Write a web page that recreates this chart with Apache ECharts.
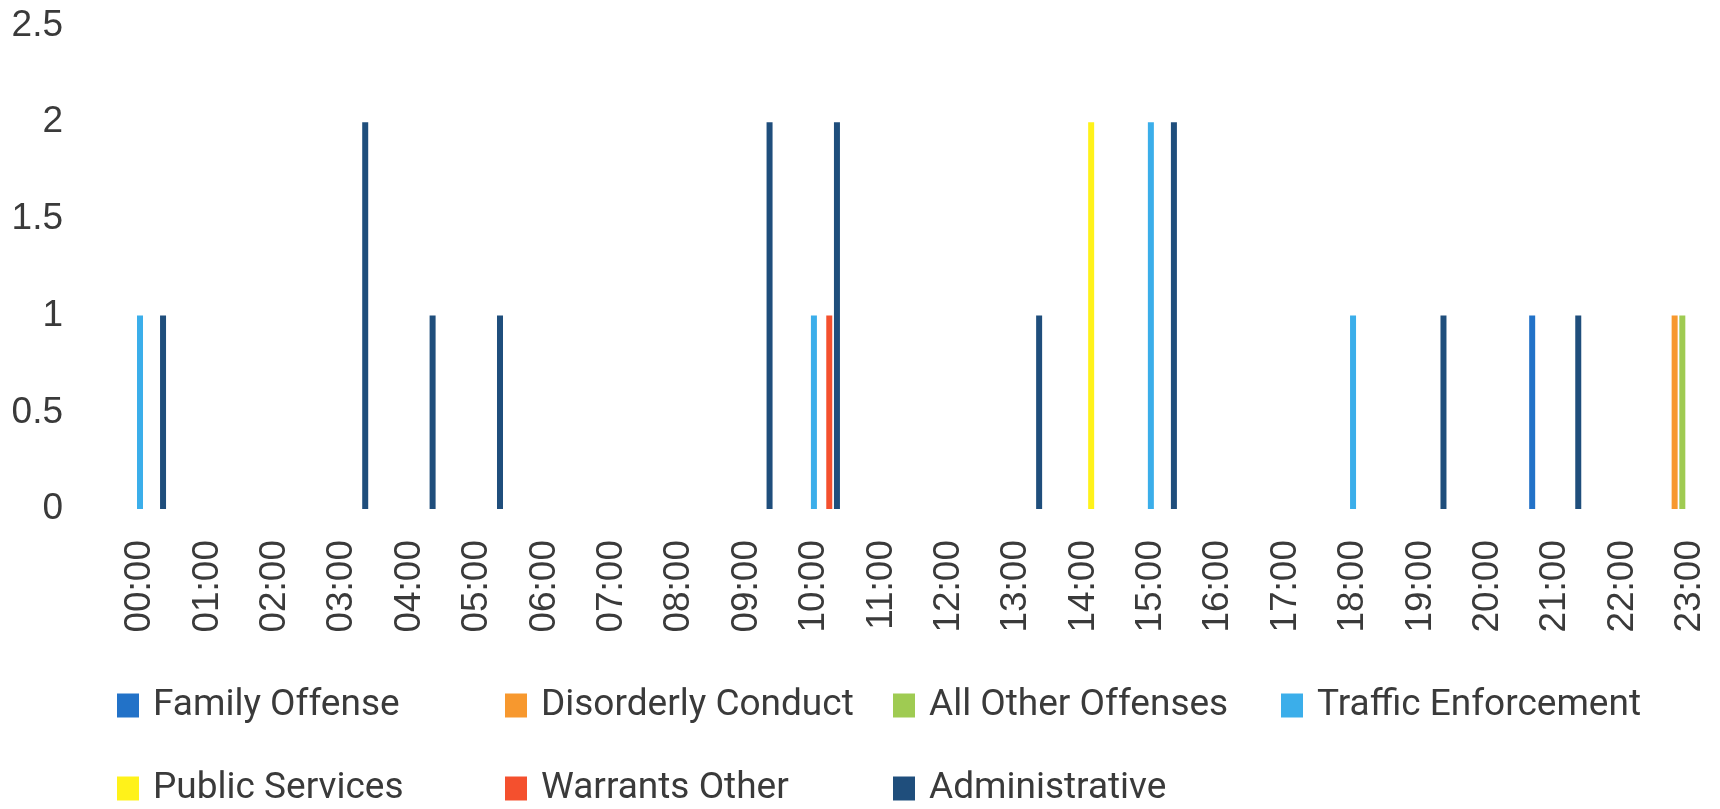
<!DOCTYPE html>
<html>
<head>
<meta charset="utf-8">
<title>Incidents by Hour</title>
<script src="https://cdn.jsdelivr.net/npm/echarts@6/dist/echarts.min.js"></script>
<style>
  html, body { margin: 0; padding: 0; background: #ffffff; }
  #chart { width: 1720px; height: 809px; }
</style>
</head>
<body>
<div id="chart"></div>
<script>
// Hour-of-day categories
const hours = ['00:00', '01:00', '02:00', '03:00', '04:00', '05:00', '06:00', '07:00',
               '08:00', '09:00', '10:00', '11:00', '12:00', '13:00', '14:00', '15:00',
               '16:00', '17:00', '18:00', '19:00', '20:00', '21:00', '22:00', '23:00'];

// Y-axis ticks
const yMin = 0;
const yMax = 2.5;
const yStep = 0.5;

// Counts per hour, one array per incident type
const familyOffense      = [0,0,0,0,0,0,0,0,0,0,0,0,0,0,0,0,0,0,0,0,0,1,0,0];
const disorderlyConduct  = [0,0,0,0,0,0,0,0,0,0,0,0,0,0,0,0,0,0,0,0,0,0,0,1];
const allOtherOffenses   = [0,0,0,0,0,0,0,0,0,0,0,0,0,0,0,0,0,0,0,0,0,0,0,1];
const trafficEnforcement = [1,0,0,0,0,0,0,0,0,0,1,0,0,0,0,2,0,0,1,0,0,0,0,0];
const publicServices     = [0,0,0,0,0,0,0,0,0,0,0,0,0,0,2,0,0,0,0,0,0,0,0,0];
const warrantsOther      = [0,0,0,0,0,0,0,0,0,0,1,0,0,0,0,0,0,0,0,0,0,0,0,0];
const administrative     = [1,0,0,2,1,1,0,0,0,2,2,0,0,1,0,2,0,0,0,1,0,1,0,0];

const seriesNames = ['Family Offense', 'Disorderly Conduct', 'All Other Offenses',
                     'Traffic Enforcement', 'Public Services', 'Warrants Other', 'Administrative'];
const seriesData = [familyOffense, disorderlyConduct, allOtherOffenses,
                    trafficEnforcement, publicServices, warrantsOther, administrative];
const seriesColors = ['#2272C8', '#F7982E', '#9FCB52', '#3BAEEA', '#FFF21A', '#F4502E', '#1F4E7C'];

const textColor = '#3a3a3a';

const chart = echarts.init(document.getElementById('chart'), null, { renderer: 'canvas' });

chart.setOption({
  backgroundColor: '#ffffff',
  animation: false,
  color: seriesColors,
  grid: { left: 140, right: 30, top: 25.5, bottom: 300, containLabel: false },
  xAxis: {
    type: 'category',
    data: hours,
    boundaryGap: false,
    axisLine: { show: false },
    axisTick: { show: false },
    splitLine: { show: false },
    axisLabel: {
      interval: 0,
      rotate: 90,
      margin: 31,
      color: textColor,
      fontFamily: '"Liberation Sans", Arial, sans-serif',
      fontSize: 37
    }
  },
  yAxis: {
    type: 'value',
    min: yMin,
    max: yMax,
    interval: yStep,
    axisLine: { show: false },
    axisTick: { show: false },
    splitLine: { show: false },
    axisLabel: {
      margin: 77,
      color: textColor,
      fontFamily: '"Liberation Sans", Arial, sans-serif',
      fontSize: 37
    }
  },
  legend: {
    left: 112,
    top: 671,
    width: 1590,
    orient: 'horizontal',
    icon: 'rect',
    itemWidth: 22,
    itemHeight: 24,
    itemGap: 24,
    selectedMode: false,
    data: seriesNames,
    textStyle: {
      color: textColor,
      fontFamily: 'Roboto, "Noto Sans", sans-serif',
      fontSize: 37,
      lineHeight: 59,
      width: 328,
      overflow: 'none',
      padding: [0, 0, 0, 9]
    }
  },
  series: seriesNames.map((name, i) => ({
    name: name,
    type: 'bar',
    data: seriesData[i],
    barWidth: 6,
    barGap: '28%',
    clip: false,
    itemStyle: { color: seriesColors[i] }
  }))
});
</script>
</body>
</html>
